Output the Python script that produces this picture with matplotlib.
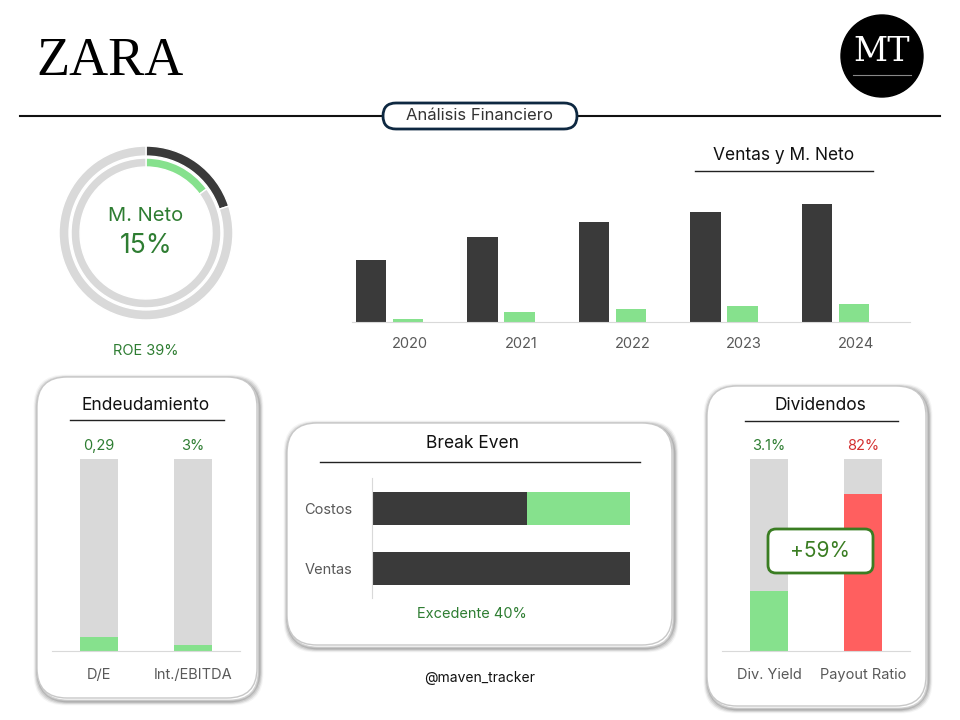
import matplotlib
matplotlib.use('Agg')
import matplotlib.pyplot as plt
from matplotlib.patches import FancyBboxPatch, Circle

plt.rcParams['font.family'] = ['Inter', 'DejaVu Sans']

DARK = '#3a3a3a'
GREEN = '#86e18d'
GRAY = '#d9d9d9'
RED = '#ff5f5f'
TXT_GREEN = '#2e7d32'
TXT_RED = '#d32f2f'
AXIS_TXT = '#595959'

# data
years = ['2020', '2021', '2022', '2023', '2024']
ventas = [20.4, 27.7, 32.6, 35.9, 38.6]
neto = [1.1, 3.3, 4.2, 5.4, 5.9]

margen_neto = 0.15
margen_ext = 0.20
roe = 0.39

deuda_labels = ['D/E', 'Int./EBITDA']
deuda_fill = [0.29 / 4, 0.03]
deuda_text = ['0,29', '3%']

be_labels = ['Ventas', 'Costos']
be_costos = [1.0, 0.60]
be_excedente = [0.0, 0.40]

div_labels = ['Div. Yield', 'Payout Ratio']
div_fill = [0.31, 0.82]
div_text = ['3.1%', '82%']
div_colors = [GREEN, RED]
div_txt_colors = [TXT_GREEN, TXT_RED]
div_spread = '+59%'

W, H = 960, 720
fig = plt.figure(figsize=(9.6, 7.2), dpi=100)


def px_layer(z):
    ax = fig.add_axes([0, 0, 1, 1])
    ax.set_xlim(0, W)
    ax.set_ylim(H, 0)
    ax.axis('off')
    ax.set_zorder(z)
    return ax


# background and overlay axes in pixel coords
bg = px_layer(0)
top = px_layer(3)


def px_axes(x0, y0, x1, y1):
    ax = fig.add_axes([x0 / W, 1 - y1 / H, (x1 - x0) / W, (y1 - y0) / H])
    ax.patch.set_alpha(0)
    ax.set_zorder(1)
    return ax


def panel(x0, y0, x1, y1, r=30):
    # soft shadow, heavier at the bottom right
    for i, a in enumerate([0.18, 0.12, 0.08, 0.04]):
        d = i + 1
        bg.add_patch(FancyBboxPatch((x0 + r - d + 2, y0 + r - d + 3),
                                    x1 - x0 - 2 * r + 2 * d - 1, y1 - y0 - 2 * r + 2 * d - 1,
                                    boxstyle=f'round,pad={r}', fc='none',
                                    ec=(0, 0, 0, a), lw=2))
    bg.add_patch(FancyBboxPatch((x0 + r, y0 + r), x1 - x0 - 2 * r, y1 - y0 - 2 * r,
                                boxstyle=f'round,pad={r}', fc='white',
                                ec='#c8c8c8', lw=1))


def title(x, y, text, x0, x1, uy):
    bg.text(x, y, text, ha='center', va='center', fontsize=12.5, color='#111111')
    bg.plot([x0, x1], [uy, uy], color='#222222', lw=1)


# header
bg.plot([20, 940], [116, 116], color='#111111', lw=1.5)
top.add_patch(FancyBboxPatch((383, 103), 194, 26, boxstyle='round,pad=0,rounding_size=13',
                             fc='white', ec='#0e2841', lw=2))
top.text(480, 116, 'Análisis Financiero', ha='center', va='center', fontsize=12, color='#333333')

# ZARA logo
bg.text(110, 62, 'ZARA', ha='center', va='center', fontsize=39,
        family=['Liberation Serif', 'DejaVu Serif'], color='black')

# MT logo
bg.add_patch(Circle((882, 56), 41, color='black'))
bg.text(882, 52, 'MT', ha='center', va='center', fontsize=24, color='white',
        family=['DejaVu Serif'])
bg.plot([853, 911], [75, 75], color='#888888', lw=0.8)

# donut
dax = px_axes(46, 133, 246, 333)
dax.pie([margen_ext, 1 - margen_ext], radius=1, startangle=90, counterclock=False,
        colors=[DARK, GRAY], wedgeprops=dict(width=0.115, edgecolor='white', linewidth=1))
dax.pie([margen_neto, 1 - margen_neto], radius=0.862, startangle=90, counterclock=False,
        colors=[GREEN, GRAY], wedgeprops=dict(width=0.103, edgecolor='white', linewidth=1))
dax.set_xlim(-1.15, 1.15)
dax.set_ylim(-1.15, 1.15)
dax.set_aspect('equal')
bg.text(146, 216, 'M. Neto', ha='center', va='center', fontsize=14.5, color=TXT_GREEN)
bg.text(146, 246, f'{margen_neto:.0%}', ha='center', va='center', fontsize=19, color=TXT_GREEN)
bg.text(146, 351, f'ROE {roe:.0%}', ha='center', va='center', fontsize=10.5, color=TXT_GREEN)

# ventas y m. neto
title(784, 155, 'Ventas y M. Neto', 695, 873, 171)
vax = px_axes(352, 190, 910, 322)
xs = range(len(years))
vax.bar([x - 0.166 for x in xs], ventas, width=0.27, color=DARK)
vax.bar([x + 0.166 for x in xs], neto, width=0.27, color=GREEN)
vax.set_xlim(-0.336, 4.668)
vax.set_ylim(0, 43.2)
vax.set_xticks([x + 0.18 for x in xs])
vax.set_xticklabels(years, fontsize=10.5, color=AXIS_TXT)
vax.tick_params(axis='x', length=0, pad=11)
vax.set_yticks([])
for s in ['top', 'right', 'left']:
    vax.spines[s].set_visible(False)
vax.spines['bottom'].set_color(GRAY)

# endeudamiento
panel(37, 377, 257, 698)
title(146, 405, 'Endeudamiento', 70, 224, 420)
eax = px_axes(52, 459, 240, 651)
eax.bar(range(2), [1, 1], width=0.404, color=GRAY)
eax.bar(range(2), deuda_fill, width=0.404, color=GREEN)
for i, t in enumerate(deuda_text):
    eax.text(i, 1.07, t, ha='center', va='center', fontsize=10.5, color=TXT_GREEN)
eax.set_xlim(-0.5, 1.5)
eax.set_ylim(0, 1)
eax.set_xticks(range(2))
eax.set_xticklabels(deuda_labels, fontsize=10.5, color=AXIS_TXT)
eax.tick_params(axis='x', length=0, pad=12)
eax.set_yticks([])
for s in ['top', 'right', 'left']:
    eax.spines[s].set_visible(False)
eax.spines['bottom'].set_color(GRAY)

# break even
panel(287, 423, 672, 645)
title(472, 443, 'Break Even', 320, 640, 462)
bax = px_axes(372, 478, 640, 598)
bax.barh(range(2), be_costos, height=0.55, color=DARK)
bax.barh(range(2), be_excedente, left=be_costos, height=0.55, color=GREEN)
bax.set_xlim(0, 1.039)
bax.set_ylim(-0.5, 1.5)
bax.set_yticks(range(2))
bax.set_yticklabels(be_labels, fontsize=10.5, color=AXIS_TXT)
bax.tick_params(axis='y', length=0, pad=14)
bax.set_xticks([])
for s in ['top', 'right', 'bottom']:
    bax.spines[s].set_visible(False)
bax.spines['left'].set_color(GRAY)
bg.text(472, 614, f'Excedente {be_excedente[1]:.0%}', ha='center', va='center',
        fontsize=10.5, color=TXT_GREEN)

# dividendos
panel(707, 386, 926, 706)
title(820, 405, 'Dividendos', 745, 898, 421)
dvax = px_axes(722, 459, 910, 651)
dvax.bar(range(2), [1, 1], width=0.404, color=GRAY)
dvax.bar(range(2), div_fill, width=0.404, color=div_colors)
for i, t in enumerate(div_text):
    dvax.text(i, 1.07, t, ha='center', va='center', fontsize=10.5, color=div_txt_colors[i])
dvax.set_xlim(-0.5, 1.5)
dvax.set_ylim(0, 1)
dvax.set_xticks(range(2))
dvax.set_xticklabels(div_labels, fontsize=10.5, color=AXIS_TXT)
dvax.tick_params(axis='x', length=0, pad=12)
dvax.set_yticks([])
for s in ['top', 'right', 'left']:
    dvax.spines[s].set_visible(False)
dvax.spines['bottom'].set_color(GRAY)
top.add_patch(FancyBboxPatch((768, 529), 105, 44, boxstyle='round,pad=0,rounding_size=8',
                             fc='white', ec='#3a7d22', lw=2))
top.text(820, 551, div_spread, ha='center', va='center', fontsize=15, color='#3a7d22')

# footer
bg.text(480, 678, '@maven_tracker', ha='center', va='center', fontsize=10, color='#111111')

fig.savefig('out.png', dpi=100)
